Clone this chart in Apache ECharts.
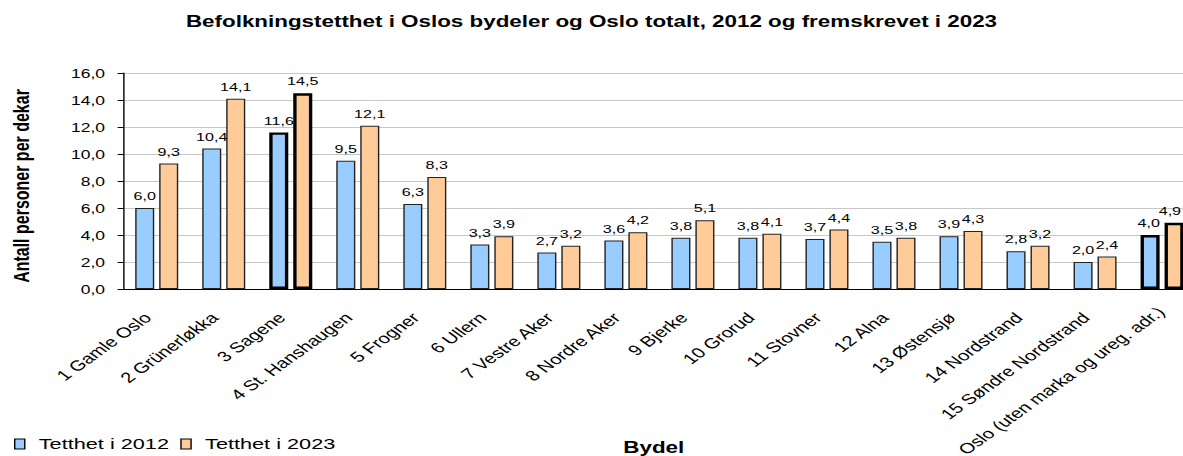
<!DOCTYPE html>
<html>
<head>
<meta charset="utf-8">
<script src="https://cdn.jsdelivr.net/npm/echarts@6/dist/echarts.min.js"></script>
<style>
  html, body { margin: 0; padding: 0; overflow: hidden; background: #fff; }
  /* the original picture is a horizontally stretched chart, so stretch ours too */
  #main { width: 845px; height: 456px; transform: scaleX(1.4); transform-origin: 0 0; }
</style>
</head>
<body>
<div id="main"></div>
<script>
const categories = [
  '1 Gamle Oslo', '2 Grünerløkka', '3 Sagene', '4 St. Hanshaugen', '5 Frogner',
  '6 Ullern', '7 Vestre Aker', '8 Nordre Aker', '9 Bjerke', '10 Grorud',
  '11 Stovner', '12 Alna', '13 Østensjø', '14 Nordstrand', '15 Søndre Nordstrand',
  'Oslo (uten marka og ureg. adr.)'
]
const tetthet2012 = [6.0, 10.4, 11.6, 9.5, 6.3, 3.3, 2.7, 3.6, 3.8, 3.8, 3.7, 3.5, 3.9, 2.8, 2.0, 4.0]
const tetthet2023 = [9.3, 14.1, 14.5, 12.1, 8.3, 3.9, 3.2, 4.2, 5.1, 4.1, 4.4, 3.8, 4.3, 3.2, 2.4, 4.9]
const highlighted = ['3 Sagene', 'Oslo (uten marka og ureg. adr.)']

const fmt = v => v.toFixed(1).replace('.', ',')

const toData = (values, lastShift) => values.map((v, i) => {
  if (!highlighted.includes(categories[i])) return v
  const item = { value: v, itemStyle: { borderColor: '#000', borderWidth: 2.4 } }
  // keep the right-most label inside the picture
  if (i === values.length - 1) item.label = { offset: [lastShift, 0] }
  return item
})

// the longest label would run off the bottom, so it gets less padding
const axisData = categories.map((c, i) =>
  i === categories.length - 1 ? { value: c, textStyle: { padding: [0, 1, 0, 0] } } : c
)

const makeSeries = (name, color, values, lastShift) => ({
  name: name,
  type: 'bar',
  data: toData(values, lastShift),
  barWidth: 13.6,
  barGap: '26%',
  itemStyle: { color: color, borderColor: '#222', borderWidth: 1 },
  label: {
    show: true,
    position: 'top',
    distance: 6,
    fontSize: 11.5,
    color: '#000',
    formatter: p => fmt(p.value)
  }
})

const myChart = echarts.init(document.getElementById('main'), null, { renderer: 'svg' })
myChart.setOption({
  animation: false,
  textStyle: { fontFamily: '"Liberation Sans", Arial, sans-serif' },
  title: {
    text: 'Befolkningstetthet i Oslos bydeler og Oslo totalt, 2012 og fremskrevet i 2023',
    left: 'center',
    top: 13,
    padding: 0,
    textStyle: { fontSize: 16, fontWeight: 'bold', color: '#000' }
  },
  legend: {
    left: 5,
    top: 431,
    icon: 'rect',
    itemWidth: 7.2,
    itemHeight: 10,
    itemGap: 8,
    itemStyle: { borderColor: '#000', borderWidth: 1 },
    textStyle: { fontSize: 15.5, color: '#000', padding: [0, 0, 0, 5] },
    data: ['Tetthet i 2012', 'Tetthet i 2023']
  },
  grid: { left: 88, top: 73, width: 766, height: 216, outerBoundsMode: 'none', containLabel: false },
  xAxis: {
    type: 'category',
    data: axisData,
    name: 'Bydel',
    nameLocation: 'middle',
    nameGap: 150,
    nameMoveOverlap: false,
    nameTextStyle: { fontSize: 16, fontWeight: 'bold', color: '#000', padding: [0, 8, 0, 0] },
    axisLine: { lineStyle: { color: '#000' } },
    axisTick: { length: 4, lineStyle: { color: '#000' } },
    axisLabel: { interval: 0, rotate: 45, margin: 20, padding: [0, 9, 0, 0], fontSize: 14.5, color: '#000' }
  },
  yAxis: {
    type: 'value',
    min: 0,
    max: 16,
    interval: 2,
    name: 'Antall personer per dekar',
    nameLocation: 'middle',
    nameGap: 65,
    nameMoveOverlap: false,
    nameTextStyle: { fontSize: 16, fontWeight: 'bold', color: '#000', padding: [0, 10, 0, 0] },
    axisLine: { show: true, lineStyle: { color: '#000' } },
    axisTick: { show: true, length: 4, lineStyle: { color: '#000' } },
    axisLabel: { margin: 13, fontSize: 12.5, color: '#000', formatter: v => fmt(v) },
    splitLine: { lineStyle: { color: '#c8c8c8', width: 1.2 } }
  },
  series: [
    makeSeries('Tetthet i 2012', '#99ccff', tetthet2012, -1),
    makeSeries('Tetthet i 2023', '#ffcc99', tetthet2023, -3)
  ]
})
</script>
</body>
</html>
